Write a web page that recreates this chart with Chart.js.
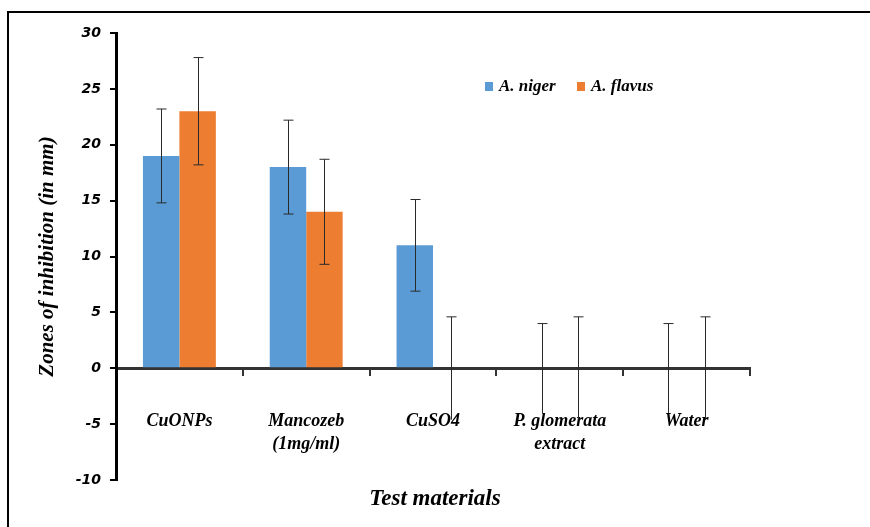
<!DOCTYPE html>
<html>
<head>
<meta charset="utf-8">
<script src="https://cdn.jsdelivr.net/npm/chart.js@4/dist/chart.umd.min.js"></script>
<style>
  html, body { margin: 0; padding: 0; background: #fff; overflow: hidden; }
  #wrap { position: relative; width: 870px; height: 527px; }
  #frame { position: absolute; left: 7px; top: 11px; width: 900px; height: 560px; border: 2px solid #000; pointer-events: none; }
</style>
</head>
<body>
<div id="wrap">
  <canvas id="chart" width="870" height="527"></canvas>
  <div id="frame"></div>
</div>
<script>
const categories = ["CuONPs", ["Mancozeb", "(1mg/ml)"], "CuSO4", ["P. glomerata", "extract"], "Water"];
const seriesNames = ["A. niger", "A. flavus"];
const nigerValues = [19, 18, 11, 0, 0];
const flavusValues = [23, 14, 0, 0, 0];
const nigerErrors = [4.2, 4.2, 4.1, 4.0, 4.0];
const flavusErrors = [4.8, 4.7, 4.6, 4.6, 4.6];
const yTicks = [-10, -5, 0, 5, 10, 15, 20, 25, 30];
const xTitle = "Test materials";
const yTitle = "Zones of inhibition (in mm)";

const blue = "#5B9BD5";
const orange = "#ED7D31";
const serif = "'Liberation Serif', 'Times New Roman', serif";

// error bars drawn from each dataset's errors array
const errorBars = {
  id: "errorBars",
  afterDatasetsDraw(chart) {
    const ctx = chart.ctx;
    const y = chart.scales.y;
    ctx.save();
    ctx.strokeStyle = "#2a2a2a";
    ctx.lineWidth = 1;
    chart.data.datasets.forEach((ds, i) => {
      const meta = chart.getDatasetMeta(i);
      meta.data.forEach((bar, j) => {
        const v = ds.data[j], e = ds.errors[j];
        const x = Math.round(bar.x) + 0.5;
        const top = y.getPixelForValue(v + e);
        const bot = y.getPixelForValue(v - e);
        ctx.beginPath();
        ctx.moveTo(x, top);
        ctx.lineTo(x, bot);
        ctx.moveTo(x - 5, top);
        ctx.lineTo(x + 5, top);
        if (v - e >= 0) {
          ctx.moveTo(x - 5, bot);
          ctx.lineTo(x + 5, bot);
        }
        ctx.stroke();
      });
    });
    ctx.restore();
  }
};

// legend inside the plot + x title centred on the whole picture
const extras = {
  id: "extras",
  afterDraw(chart) {
    const ctx = chart.ctx;
    const spots = [485, 577];
    ctx.save();
    ctx.font = "italic bold 17px " + serif;
    ctx.textBaseline = "middle";
    chart.data.datasets.forEach((ds, i) => {
      const x = spots[i];
      ctx.fillStyle = ds.backgroundColor;
      ctx.fillRect(x, 82, 8, 9);
      ctx.fillStyle = "#000";
      ctx.fillText(ds.label, x + 14, 87);
    });
    ctx.font = "italic bold 23px " + serif;
    ctx.textAlign = "center";
    ctx.fillText(xTitle, 435, 499);
    ctx.restore();
  }
};

new Chart(document.getElementById("chart").getContext("2d"), {
  type: "bar",
  data: {
    labels: categories,
    datasets: [
      { label: seriesNames[0], data: nigerValues, errors: nigerErrors, backgroundColor: blue },
      { label: seriesNames[1], data: flavusValues, errors: flavusErrors, backgroundColor: orange }
    ]
  },
  options: {
    responsive: false,
    animation: false,
    devicePixelRatio: 1,
    categoryPercentage: 0.575,
    barPercentage: 1,
    layout: { padding: { top: 33, right: 120, left: 0, bottom: 47 } },
    scales: {
      x: {
        position: { y: 0 },
        z: 1,
        border: { display: true, color: "#333", width: 3 },
        grid: { display: true, drawOnChartArea: false, offset: true, tickLength: 6, color: "#333", lineWidth: 2 },
        ticks: {
          color: "#000",
          padding: 36,
          font: { family: serif, size: 18, style: "italic", weight: "bold", lineHeight: 1.25 }
        }
      },
      y: {
        min: -10,
        max: 30,
        afterFit(scale) { scale.width = 116; },
        afterBuildTicks(scale) { scale.ticks = yTicks.map(v => ({ value: v })); },
        border: { display: true, color: "#000", width: 3 },
        grid: { display: true, drawOnChartArea: false, tickLength: 6, color: "#000", lineWidth: 2 },
        ticks: {
          color: "#000",
          padding: 9,
          font: { family: "'DejaVu Sans', sans-serif", size: 14, style: "italic", weight: "bold" }
        },
        title: {
          display: true,
          text: yTitle,
          color: "#000",
          padding: { top: 35, bottom: 0 },
          font: { family: serif, size: 21, style: "italic", weight: "bold" }
        }
      }
    },
    plugins: {
      legend: { display: false },
      tooltip: { enabled: false },
      title: { display: false }
    }
  },
  plugins: [errorBars, extras]
});
</script>
</body>
</html>
